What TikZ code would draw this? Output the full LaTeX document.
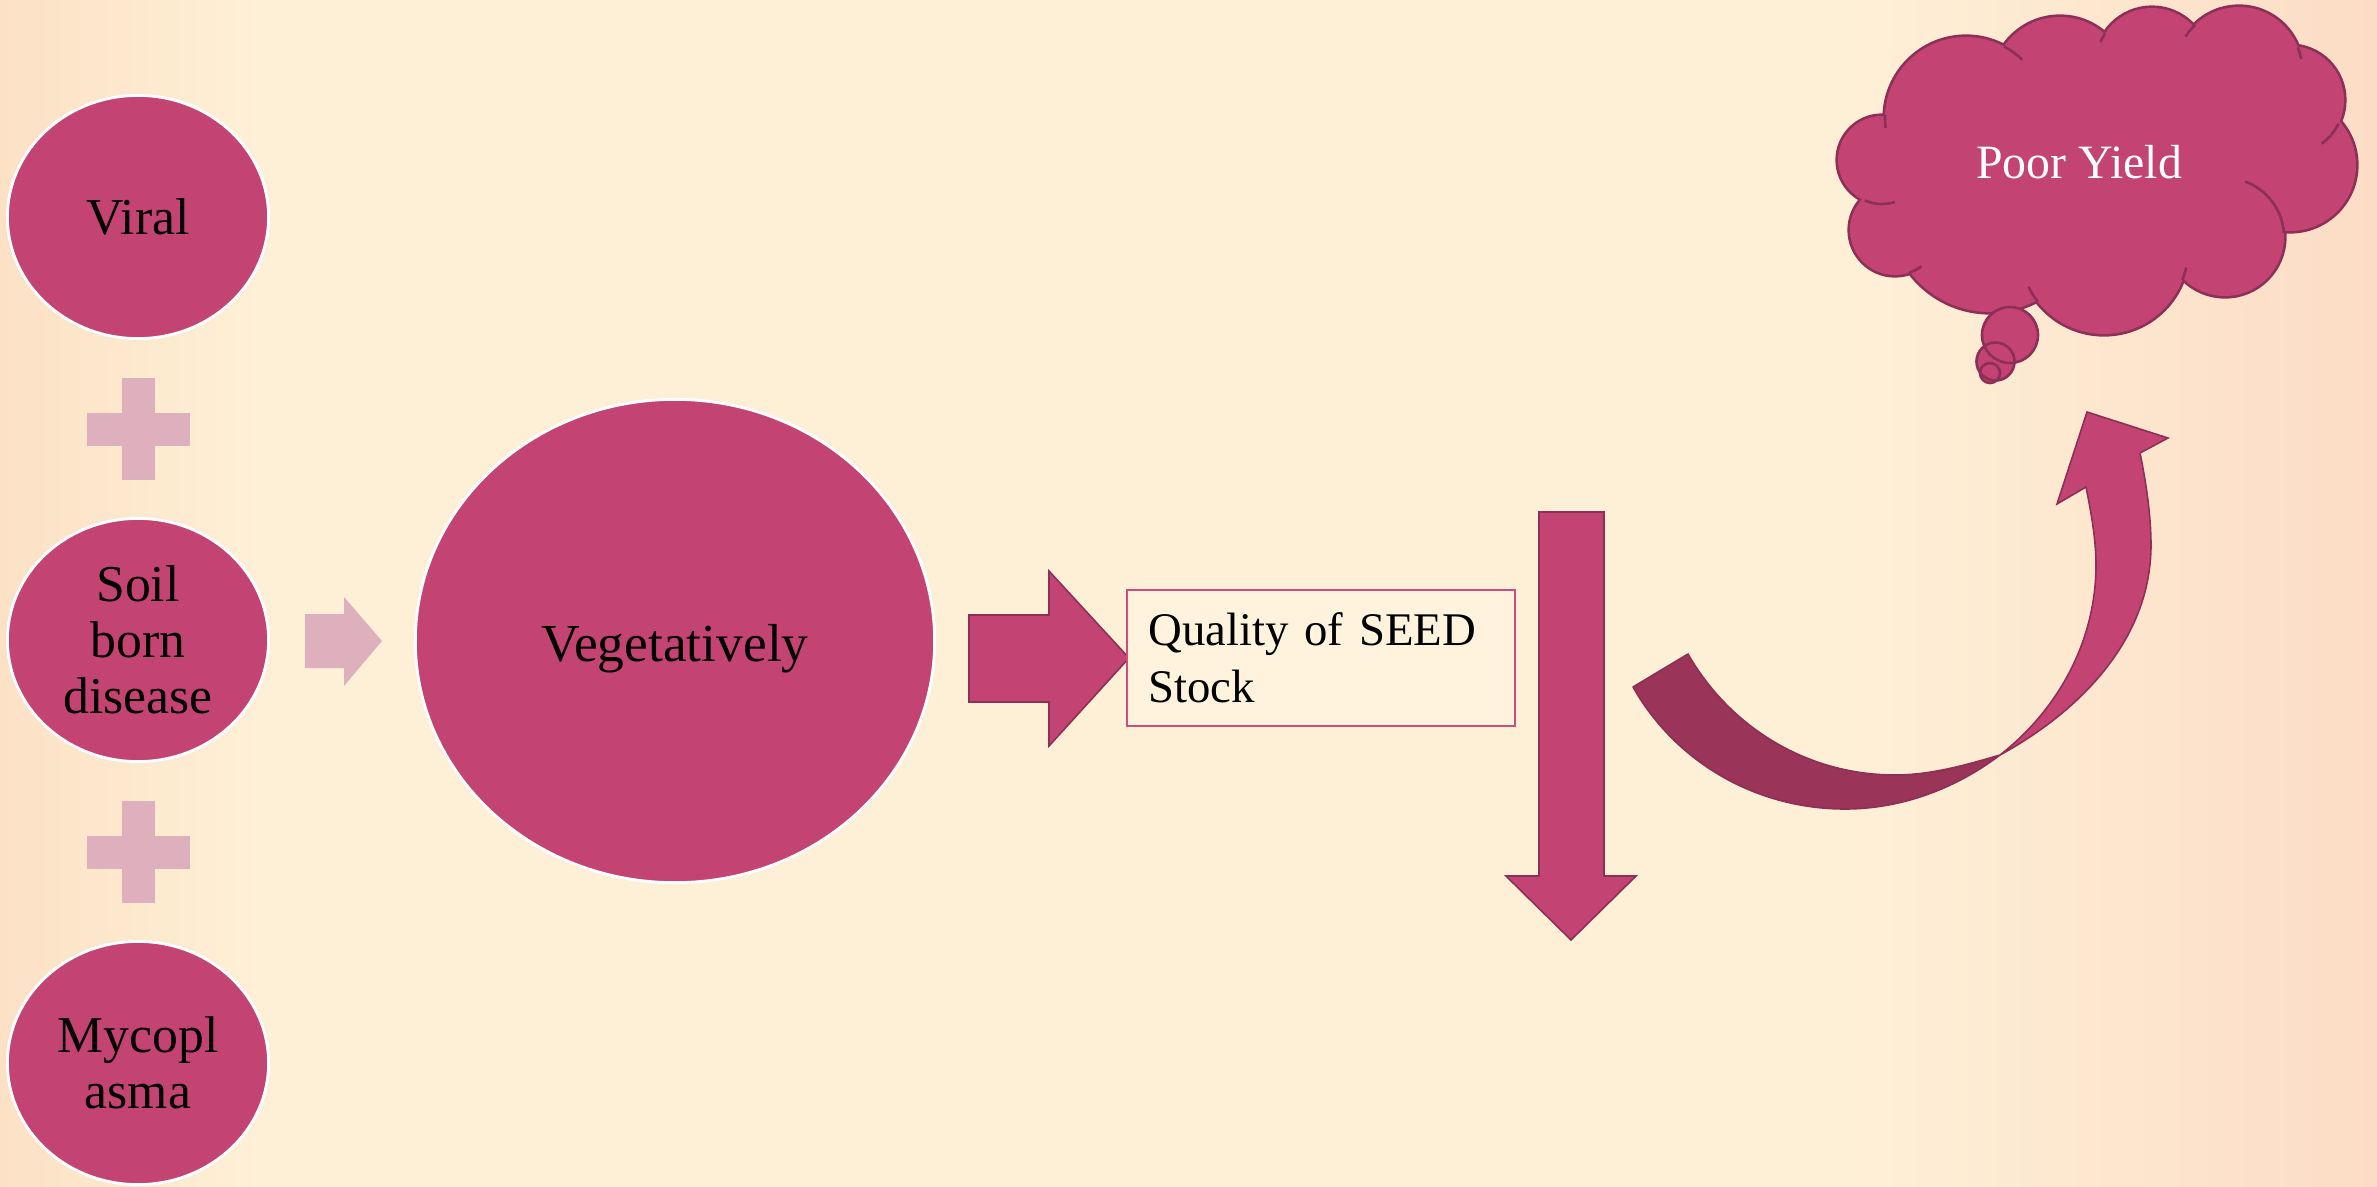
\documentclass[tikz,border=0pt]{standalone}
\usepackage{fontspec}
\setmainfont{Liberation Serif}
\usetikzlibrary{shapes.geometric}

\definecolor{bg}{HTML}{FEF0D7}
\definecolor{peachL}{HTML}{FCE1C5}
\definecolor{peachR}{HTML}{FCDCC6}
\definecolor{rose}{HTML}{C34473}
\definecolor{roseline}{HTML}{8E2F57}
\definecolor{rosedark}{HTML}{9B3459}
\definecolor{pluspink}{HTML}{DEAFBD}
\definecolor{boxfill}{HTML}{FFF3DD}
\definecolor{boxline}{HTML}{CF4D7D}

\tikzset{
  disc/.style={ellipse, fill=rose, draw=white, line width=0.8pt, inner sep=0pt,
    align=center, text=black},
  smalldisc/.style={disc, minimum width=2.61cm, minimum height=2.43cm,
    font=\fontsize{14.7}{16}\selectfont},
  blockarrow/.style={fill=rose, draw=roseline, line width=0.45pt, line join=miter},
  cloudline/.style={draw=roseline, line width=0.75pt},
  plussign/.style={fill=pluspink},
}

\begin{document}
\begin{tikzpicture}[x=0.01cm, y=-0.01cm]
% page and soft background
\useasboundingbox (0,0) rectangle (2377,1187);
\fill[bg] (0,0) rectangle (2377,1187);
\shade[left color=peachL, right color=bg] (0,0) rectangle (260,1187);
\shade[left color=bg, right color=peachR] (1850,0) rectangle (2377,1187);

% causes on the left
\node[smalldisc] (viral) at (138,217) {Viral};
\node[smalldisc] (soil) at (138,640) {Soil\\born\\disease};
\node[smalldisc] (myco) at (138,1063) {Mycopl\\asma};

% plus signs between the causes
\foreach \py in {429,852}{
  \fill[plussign] (122,\py-51) rectangle (155,\py+51);
  \fill[plussign] (87,\py-16.5) rectangle (190,\py+16.5);
}

% small arrow into the big disc
\fill[pluspink] (305,614) -- (344,614) -- (344,597) -- (382,641)
  -- (344,686) -- (344,668) -- (305,668) -- cycle;

% central disc
\node[disc, minimum width=5.19cm, minimum height=4.83cm, text height=15pt,
  font=\fontsize{15.2}{18}\selectfont] (veg) at (675,641) {Vegetatively};

% arrow to the text box
\filldraw[blockarrow] (969,615) -- (1049,615) -- (1049,571) -- (1129,658)
  -- (1049,746) -- (1049,702) -- (969,702) -- cycle;

% text box
\node[rectangle, draw=boxline, fill=boxfill, line width=0.55pt,
  minimum width=3.88cm, minimum height=1.36cm, inner xsep=0.217cm,
  text width=3.446cm, align=left, font=\fontsize{13.3}{16.2}\selectfont]
  (seed) at (1321,658) {Quality of SEED\\Stock};

% downward arrow
\filldraw[blockarrow] (1539,512) -- (1604,512) -- (1604,876) -- (1636,876)
  -- (1571,940) -- (1506,876) -- (1539,876) -- cycle;

% curved arrow: ribbon twist point and tail corners
\coordinate (twist) at (2000,755);
\coordinate (tailout) at (1633,687);
\coordinate (tailin) at (1688,654);
% back (dark) part of the ribbon
\filldraw[fill=rosedark, draw=roseline, line width=0.45pt, line join=round]
  (tailout) .. controls (1676,763) and (1757,809) .. (1845,809)
  .. controls (1901,809) and (1955,789) .. (twist)
  .. controls (1966,765) and (1931,775) .. (1895,775)
  .. controls (1809,775) and (1731,729) .. (tailin) -- cycle;
% front part with the head
\filldraw[blockarrow]
  (twist) .. controls (2082,710) and (2151,638) .. (2151,545)
  .. controls (2151,515) and (2146,482) .. (2140,453)
  -- (2168,438) -- (2087,412) -- (2057,504) -- (2086,487)
  .. controls (2091,512) and (2096,539) .. (2096,565)
  .. controls (2096,640) and (2059,709) .. (twist) -- cycle;

% thought cloud: outline from the bumps, then fill
\def\bumps{1882/160/44, 1895/230/45, 1990/212/100, 2104/250/84,
  2225/237/59, 2290/165/66, 2290/100/54, 2239/70/63, 2152/64/56,
  2060/85/68, 1966/118/81}
\foreach \cx/\cy/\r in \bumps{
  \draw[draw=roseline, line width=1.5pt] (\cx,\cy) circle[radius=\r];
}
\foreach \cx/\cy/\r in \bumps{
  \fill[rose] (\cx,\cy) circle[radius=\r];
}
\fill[rose] (1882,160) -- (1895,230) -- (1990,212) -- (2104,250) -- (2225,237)
  -- (2290,165) -- (2290,100) -- (2239,70) -- (2152,64) -- (2060,85)
  -- (1966,118) -- cycle;
% short inner folds of the cloud
\foreach \cx/\cy/\r/\a/\b in {
  1882/160/44/113/73, 1895/230/45/72/54, 2104/250/84/142/154,
  2104/250/84/12/21, 2225/237/59/-70/-4, 2290/100/54/26/54,
  2239/70/63/-21/-10, 2239/70/63/-134/-148, 2152/64/56/-147/-157,
  1966/118/81/-62/-46, 1966/118/81/182/173}{
  \draw[cloudline] (\cx,\cy) ++(\a:\r) arc[start angle=\a, end angle=\b, radius=\r];
}
% trailing bubbles
\fill[rose] (2010,335) circle[radius=28];
\fill[rose] (1995.5,361.5) circle[radius=19];
\fill[rose] (1990,373) circle[radius=10];
\draw[cloudline] (2010,335) circle[radius=28];
\draw[cloudline] (1995.5,361.5) circle[radius=19];
\draw[cloudline] (1990,373) circle[radius=10];

\node[text=white, font=\fontsize{13.6}{16}\selectfont] (yield) at (2079,162) {Poor Yield};
\end{tikzpicture}
\end{document}
